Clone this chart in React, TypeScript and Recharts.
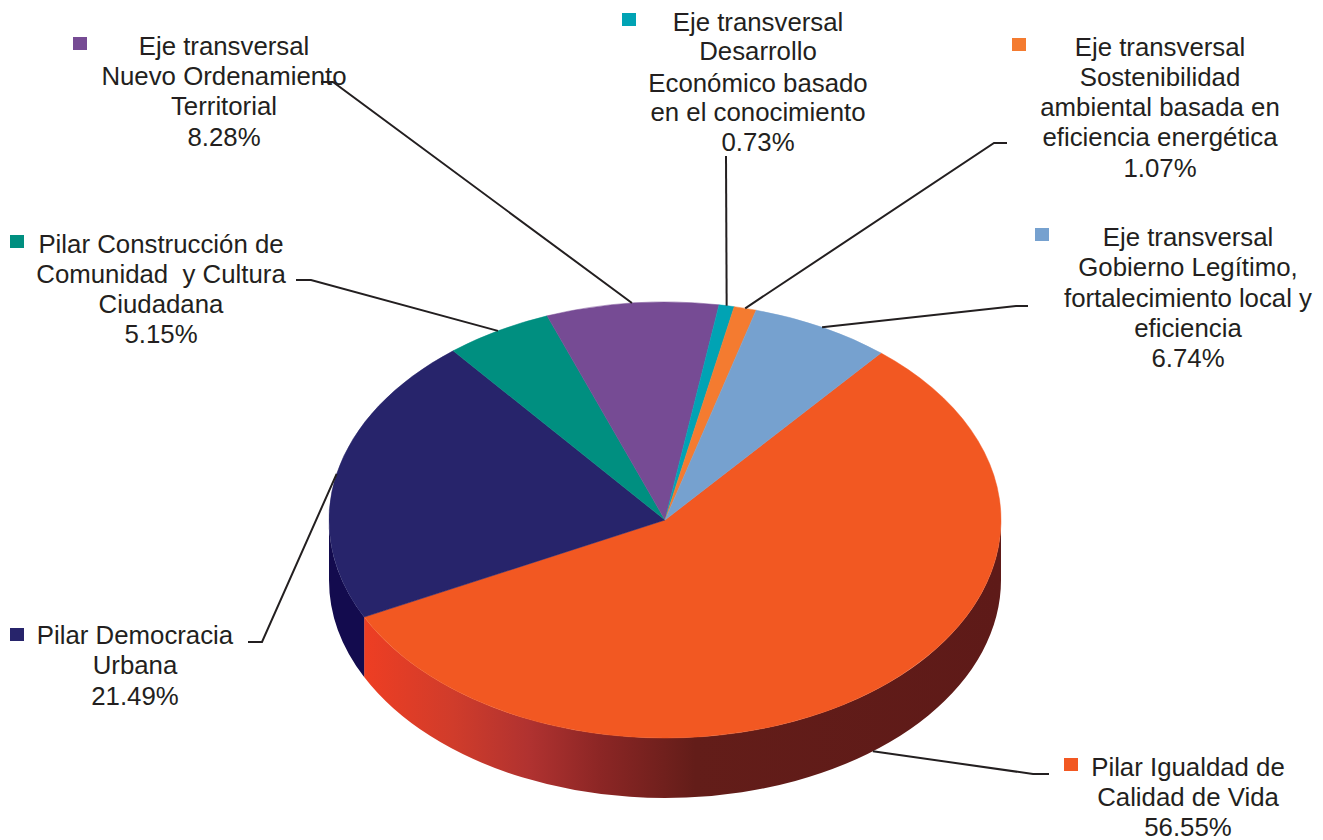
import { PieChart, Pie } from 'recharts';

const categories = [
  'Pilar Igualdad de Calidad de Vida',
  'Pilar Democracia Urbana',
  'Pilar Construcción de Comunidad y Cultura Ciudadana',
  'Eje transversal Nuevo Ordenamiento Territorial',
  'Eje transversal Desarrollo Económico basado en el conocimiento',
  'Eje transversal Sostenibilidad ambiental basada en eficiencia energética',
  'Eje transversal Gobierno Legítimo, fortalecimiento local y eficiencia',
];
const shares = [56.55, 21.49, 5.15, 8.28, 0.73, 1.07, 6.74];

// wrapped the same way as the original callouts
const labelLines = [
  ['Pilar Igualdad de', 'Calidad de Vida'],
  ['Pilar Democracia', 'Urbana'],
  ['Pilar Construcción de', 'Comunidad  y Cultura', 'Ciudadana'],
  ['Eje transversal', 'Nuevo Ordenamiento', 'Territorial'],
  ['Eje transversal', 'Desarrollo', 'Económico basado', 'en el conocimiento'],
  ['Eje transversal', 'Sostenibilidad', 'ambiental basada en', 'eficiencia energética'],
  ['Eje transversal', 'Gobierno Legítimo,', 'fortalecimiento local y', 'eficiencia'],
];

const sliceColors = ['#f25822', '#27246b', '#008f80', '#764b94', '#00a3b4', '#f47b30', '#76a1cf'];
const wallColors = ['url(#igualdadWall)', '#130b4e', '#00665b', '#4e2f66', '#006e7a', '#a8501c', '#4e6f94'];

// callout placement: text centre, baselines, swatch corner, leader elbow and end
const callouts = [
  { x: 1188, y: [776, 806, 836], box: [1064, 758], leader: [[1033, 774], [1049, 774]] },
  { x: 135, y: [644, 674, 705], box: [10, 628], leader: [[262, 642], [248, 642]] },
  { x: 161, y: [253, 283, 313, 343], box: [10, 235], leader: [[311, 280], [296, 280]] },
  { x: 224, y: [55, 85, 115, 146], box: [73, 37], leader: [[333, 82], [321, 82]] },
  { x: 758, y: [31, 60, 92, 121, 151], box: [622, 13], leader: [[726, 156]] },
  { x: 1160, y: [56, 86, 116, 146, 177], box: [1012, 38], leader: [[994, 143], [1007, 143]] },
  { x: 1188, y: [246, 276, 307, 337, 367], box: [1035, 228], leader: [[1016, 306], [1028, 306]] },
];

const tableData = categories.map((name, i) => ({
  name,
  value: shares[i],
  fill: sliceColors[i],
  wall: wallColors[i],
}));

const CX = 665;
const CY = 520;
const RX = 336;
const TILT = 218 / 336; // vertical squash of the pie
const DEPTH = 60;
const TEXT_COLOR = '#231f20';

const onEllipse = (cx: number, cy: number, r: number, deg: number) => {
  const a = (deg * Math.PI) / 180;
  return [cx + r * Math.cos(a), cy - r * TILT * Math.sin(a)];
};

// top face of a slice, squashed into an ellipse
function TopSlice(props: any) {
  const { cx, cy, outerRadius: r, startAngle, endAngle, fill } = props;
  const [x0, y0] = onEllipse(cx, cy, r, startAngle);
  const [x1, y1] = onEllipse(cx, cy, r, endAngle);
  const large = Math.abs(startAngle - endAngle) > 180 ? 1 : 0;
  const d = `M${cx},${cy}L${x0},${y0}A${r},${r * TILT} 0 ${large} 1 ${x1},${y1}Z`;
  return <path d={d} fill={fill} stroke={fill} strokeWidth={0.5} />;
}

// side wall: only the part of a slice on the front half of the ellipse
function WallSlice(props: any) {
  const { cx, cy, outerRadius: r, startAngle, endAngle, wall } = props;
  // clockwise angles, front half is 0 down to -180 (and -360 down to -540 wrapped)
  const from = Math.min(0, startAngle);
  const to = Math.max(-180, endAngle);
  if (from <= to) return <g />;
  const [x0, y0] = onEllipse(cx, cy, r, from);
  const [x1, y1] = onEllipse(cx, cy, r, to);
  const ry = r * TILT;
  const d =
    `M${x0},${y0}A${r},${ry} 0 0 1 ${x1},${y1}` +
    `L${x1},${y1 + DEPTH}A${r},${ry} 0 0 0 ${x0},${y0 + DEPTH}Z`;
  return (
    <g>
      <defs>
        <linearGradient id="igualdadWall" gradientUnits="userSpaceOnUse" x1={364} y1={0} x2={1001} y2={0}>
          <stop offset="0" stopColor="#ee3e23" />
          <stop offset="0.14" stopColor="#d03c2b" />
          <stop offset="0.26" stopColor="#b03230" />
          <stop offset="0.37" stopColor="#8c2625" />
          <stop offset="0.52" stopColor="#631d19" />
          <stop offset="1" stopColor="#5e1a18" />
        </linearGradient>
      </defs>
      <path d={d} fill={wall} />
    </g>
  );
}

function Callout(props: any) {
  const { cx, cy, outerRadius: r, midAngle, index, value } = props;
  const c = callouts[index];
  let [sx, sy] = onEllipse(cx, cy, r, midAngle);
  // leaders of front slices start from the bottom of the wall
  if (Math.sin((midAngle * Math.PI) / 180) < 0) sy += DEPTH;
  const points = [[sx, sy], ...c.leader].map((p) => p.join(',')).join(' ');
  const texts = [...labelLines[index], `${value.toFixed(2)}%`];
  return (
    <g>
      <polyline points={points} fill="none" stroke={TEXT_COLOR} strokeWidth={2} />
      <rect x={c.box[0]} y={c.box[1]} width={14} height={13} fill={sliceColors[index]} />
      {texts.map((t, i) => (
        <text
          key={i}
          x={c.x}
          y={c.y[i]}
          textAnchor="middle"
          fontFamily="'Liberation Sans', Arial, sans-serif"
          fontSize={25.8}
          fill={TEXT_COLOR}
          style={{ whiteSpace: 'pre' }}
        >
          {t}
        </text>
      ))}
    </g>
  );
}

export default function App() {
  return (
    <div style={{ position: 'absolute', left: 0, top: 0, width: 1323, height: 840, background: '#fff' }}>
      <PieChart width={1323} height={840} margin={{ top: 0, right: 0, bottom: 0, left: 0 }}>
        <Pie
          data={tableData}
          dataKey="value"
          nameKey="name"
          cx={CX}
          cy={CY}
          outerRadius={RX}
          startAngle={50}
          endAngle={-310}
          shape={WallSlice}
          isAnimationActive={false}
        />
        <Pie
          data={tableData}
          dataKey="value"
          nameKey="name"
          cx={CX}
          cy={CY}
          outerRadius={RX}
          startAngle={50}
          endAngle={-310}
          shape={TopSlice}
          label={Callout}
          labelLine={false}
          isAnimationActive={false}
        />
      </PieChart>
    </div>
  );
}
